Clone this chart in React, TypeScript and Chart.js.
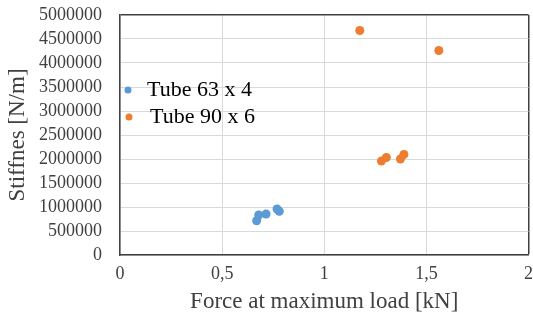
import React, { useEffect, useRef } from "react";
import { Chart, registerables } from "chart.js";

Chart.register(...registerables);

const seriesNames = ["Tube 63 x 4", "Tube 90 x 6"];
const seriesColors = ["#5B9BD5", "#ED7D31"];
const tube63X = [0.669, 0.679, 0.715, 0.769, 0.78];
const tube63Y = [714000, 833000, 854000, 958000, 910000];
const tube90X = [1.28, 1.304, 1.373, 1.39, 1.174, 1.561];
const tube90Y = [1958000, 2031000, 2000000, 2094000, 4677000, 4260000];
const xTitle = "Force at maximum load [kN]";
const yTitle = "Stiffnes [N/m]";

const FONT = "'Liberation Serif', 'Times New Roman', serif";
const DARK = "#404040";
const GRID = "#d9d9d9";

const legendPlugin = {
  id: "insideLegend",
  afterDraw(chart: any) {
    const ctx = chart.ctx;
    const a = chart.chartArea;
    const rows = [
      { dx: 8, dy: 75, tx: 27 },
      { dx: 9, dy: 102, tx: 30 },
    ];
    ctx.save();
    ctx.font = `22px ${FONT}`;
    ctx.textBaseline = "middle";
    ctx.textAlign = "left";
    chart.data.datasets.forEach((ds: any, i: number) => {
      const r = rows[i];
      ctx.fillStyle = ds.backgroundColor;
      ctx.beginPath();
      ctx.arc(a.left + r.dx, a.top + r.dy, 3.5, 0, Math.PI * 2);
      ctx.fill();
      ctx.fillStyle = "#000000";
      ctx.fillText(ds.label, a.left + r.tx, a.top + r.dy);
    });
    ctx.restore();
  },
};

export default function App() {
  const ref = useRef<HTMLCanvasElement | null>(null);
  useEffect(() => {
    if (!ref.current) return;
    const chart = new Chart(ref.current, {
      type: "scatter",
      data: {
        datasets: [
          {
            label: seriesNames[0],
            data: tube63X.map((x, i) => ({ x, y: tube63Y[i] })),
            backgroundColor: seriesColors[0],
            borderColor: seriesColors[0],
            pointRadius: 4.5,
            borderWidth: 0,
          },
          {
            label: seriesNames[1],
            data: tube90X.map((x, i) => ({ x, y: tube90Y[i] })),
            backgroundColor: seriesColors[1],
            borderColor: seriesColors[1],
            pointRadius: 4.5,
            borderWidth: 0,
          },
        ],
      },
      options: {
        animation: false,
        responsive: true,
        maintainAspectRatio: false,
        layout: { padding: { top: 15, right: 4, left: 0, bottom: 0 } },
        plugins: {
          legend: { display: false },
          tooltip: { enabled: false },
        },
        scales: {
          x: {
            type: "linear",
            min: 0,
            max: 2,
            ticks: {
              stepSize: 0.5,
              autoSkip: false,
              maxRotation: 0,
              padding: 8,
              color: DARK,
              font: { family: FONT, size: 18 },
              callback: (v: any) => String(v).replace(".", ","),
            },
            grid: {
              drawTicks: false,
              color: (c: any) => (c.tick && c.tick.value === 2 ? DARK : GRID),
              lineWidth: (c: any) => (c.tick && c.tick.value === 2 ? 1.5 : 1),
            },
            border: { display: true, color: DARK, width: 1.5 },
            title: {
              display: true,
              text: xTitle,
              color: DARK,
              font: { family: FONT, size: 23 },
              padding: { top: 0, bottom: 5 },
            },
            afterFit: (s: any) => {
              s.height = 66;
              s.paddingLeft = 0;
              s.paddingRight = 0;
            },
          },
          y: {
            type: "linear",
            min: 0,
            max: 5000000,
            ticks: {
              stepSize: 500000,
              autoSkip: false,
              padding: 18,
              color: DARK,
              font: { family: FONT, size: 18 },
              callback: (v: any) => String(v),
            },
            grid: {
              drawTicks: false,
              color: (c: any) => (c.tick && c.tick.value === 5000000 ? DARK : GRID),
              lineWidth: (c: any) => (c.tick && c.tick.value === 5000000 ? 1.5 : 1),
            },
            border: { display: true, color: DARK, width: 1.5 },
            title: {
              display: true,
              text: yTitle,
              color: DARK,
              font: { family: FONT, size: 23 },
              padding: { top: 4, bottom: 0 },
            },
            afterFit: (s: any) => {
              s.width = 120;
              s.paddingTop = 0;
              s.paddingBottom = 0;
            },
          },
        },
      },
      plugins: [legendPlugin],
    });
    return () => chart.destroy();
  }, []);
  return (
    <div style={{ position: "fixed", left: 0, top: 0, width: 533, height: 321, background: "#ffffff" }}>
      <canvas ref={ref} />
    </div>
  );
}
